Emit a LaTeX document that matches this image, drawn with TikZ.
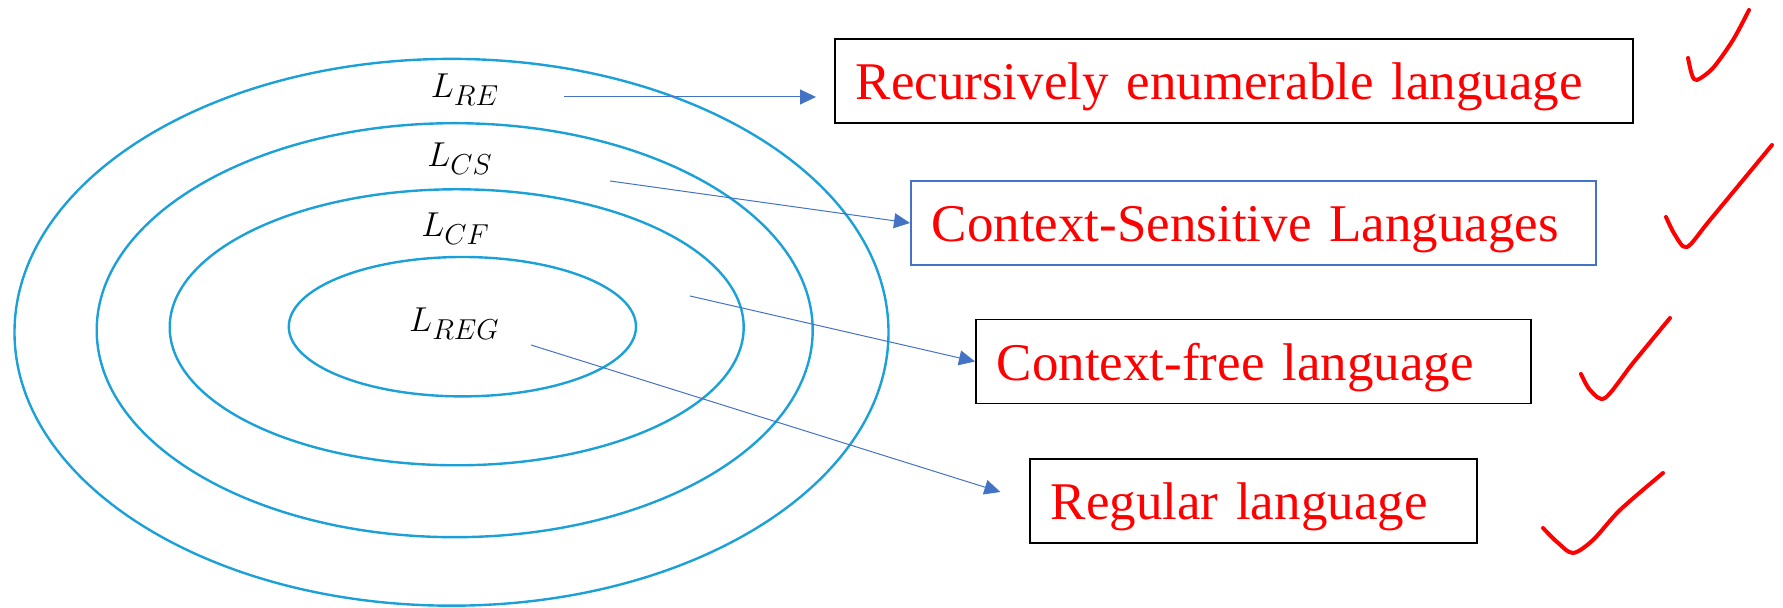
\documentclass[tikz,border=0pt]{standalone}
\usepackage{fontspec}
\setmainfont{Liberation Serif}
\usetikzlibrary{arrows.meta}
\DeclareMathSizes{18}{18}{15.5}{12}
\definecolor{ringblue}{RGB}{28,160,216}
\definecolor{arrowblue}{RGB}{68,114,196}

\begin{document}
\begin{tikzpicture}[x=0.5pt,y=0.5pt,
    ring/.style={draw=ringblue,line width=1.2pt},
    lab/.style={font=\fontsize{18}{20}\selectfont},
    lang/.style={draw,line width=0.8pt,anchor=west,minimum height=42pt,
      inner xsep=10.5pt,align=left,text=red,
      font=\fontsize{26.5}{30}\selectfont,text height=19pt,text depth=0pt},
    conn/.style={draw=arrowblue,line width=0.5pt},
    tick/.style={red,line width=2pt,line cap=round,line join=round},
    >={Triangle[length=8pt,width=7.5pt]}]
  \useasboundingbox (0,0) rectangle (1783,608);
  % nested language classes
  \draw[ring] (451.5,275.7) ellipse (437 and 273.4);
  \draw[ring] (454.7,277.8) ellipse (358 and 207);
  \draw[ring] (456.7,280.7) ellipse (287 and 138);
  \draw[ring] (462.4,281.3) ellipse (173.6 and 69.7);
  \node[lab] (lre)  at (465,518) {$L_{RE}$};
  \node[lab] (lcs)  at (460,449) {$L_{CS}$};
  \node[lab] (lcf)  at (455.5,379) {$L_{CF}$};
  \node[lab] (lreg) at (454.5,284) {$L_{REG}$};
  % names
  \node[lang,text width=378pt] (rebox) at (834,527) {Recursively enumerable language};
  \node[lang,text width=321.5pt,draw=arrowblue] (csbox) at (910,385) {Context-Sensitive Languages};
  \node[lang,text width=256.5pt] (cfbox) at (975,246.5) {Context-free language};
  \node[lang,text width=202.5pt] (regbox) at (1029,107) {Regular language};
  \coordinate (refrom)  at (564,511);
  \coordinate (csfrom)  at (610,427);
  \coordinate (cffrom)  at (690,312);
  \coordinate (regfrom) at (531,263);
  \draw[conn,->,shorten >=9pt] (refrom) -- (refrom -| rebox.west);
  \draw[conn,->] (csfrom) -- (csbox.west);
  \draw[conn,->] (cffrom) -- (cfbox.west);
  \draw[conn,->,shorten >=15pt] (regfrom) -- (regbox.west);
  % ticks
  \draw[tick] plot[smooth] coordinates {(1688,550) (1692,533) (1697,528) (1713,540) (1733,568) (1749,598)};
  \draw[tick] plot[smooth] coordinates {(1666,391) (1675,373) (1687,361) (1710,388) (1772,463)};
  \draw[tick] plot[smooth] coordinates {(1581,234) (1590,218) (1605,210) (1633,245) (1670,290)};
  \draw[tick] plot[smooth] coordinates {(1543,80) (1557,66) (1573,55) (1593,68) (1620,98) (1663,135)};
\end{tikzpicture}
\end{document}
